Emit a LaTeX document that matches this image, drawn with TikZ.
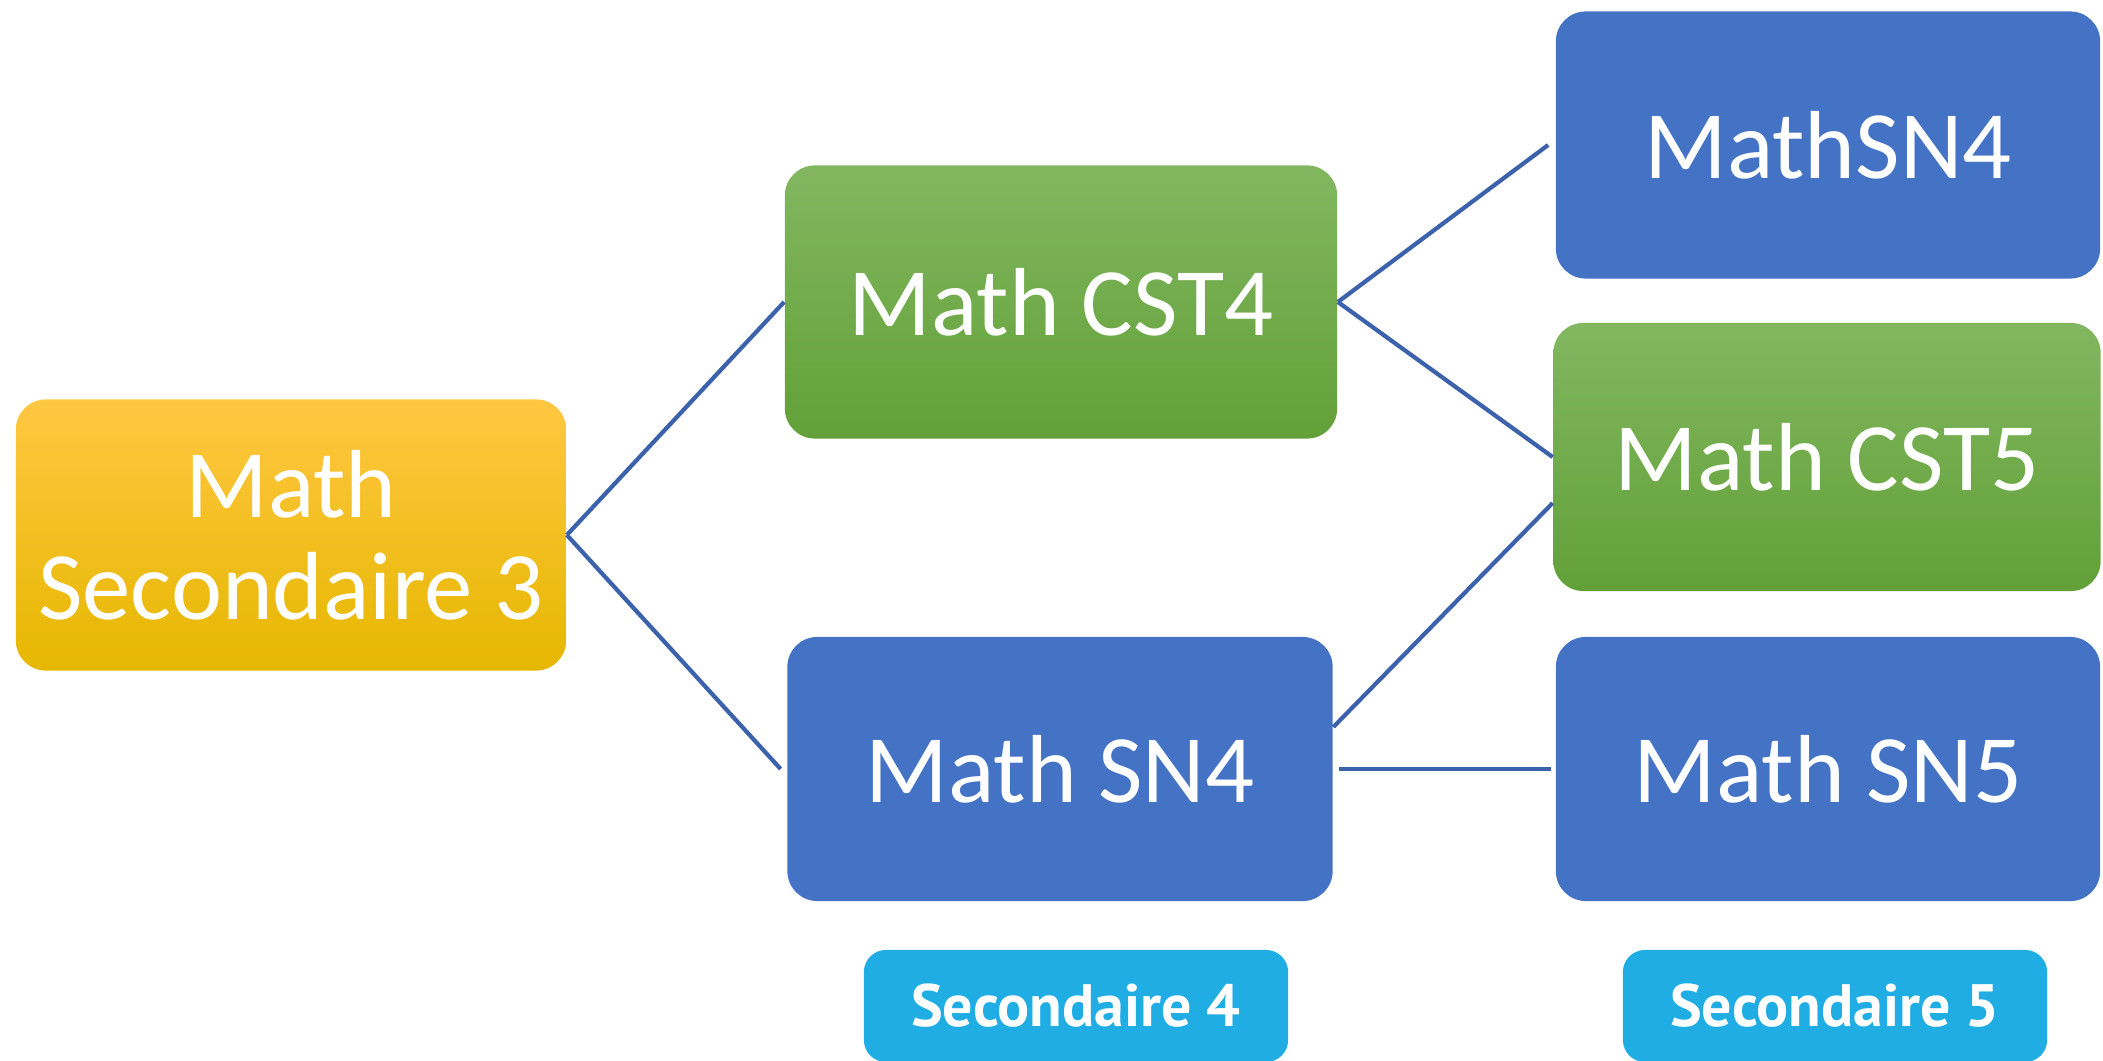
\documentclass[tikz,border=0pt]{standalone}
\usepackage{fontspec}
\setmainfont{Carlito}
\newfontfamily\labelfont{PT Sans}
\definecolor{yeltop}{RGB}{255, 199, 66}
\definecolor{yelmid}{RGB}{255, 192, 0}
\definecolor{yelbot}{RGB}{230, 183, 0}
\definecolor{grntop}{RGB}{130, 183, 96}
\definecolor{grnmid}{RGB}{112, 173, 71}
\definecolor{grnbot}{RGB}{98, 160, 56}
\definecolor{boxblue}{RGB}{68, 114, 196}
\definecolor{linkblue}{RGB}{61, 98, 172}
\definecolor{tagcyan}{RGB}{31, 173, 228}
\usetikzlibrary{positioning}

\begin{document}
\begin{tikzpicture}[x=0.01cm, y=-0.01cm,
    course/.style={rectangle, rounded corners=0.3cm, inner sep=0pt, text=white,
      align=center, font=\fontsize{27.5}{29}\selectfont},
    yellowbox/.style={course, top color=yeltop, middle color=yelmid, bottom color=yelbot},
    greenbox/.style={course, top color=grntop, middle color=grnmid, bottom color=grnbot},
    bluebox/.style={course, fill=boxblue},
    tag/.style={rectangle, rounded corners=0.22cm, inner sep=0pt, fill=tagcyan, text=white,
      minimum width=4.24cm, minimum height=1.12cm, font=\labelfont\bfseries\fontsize{17}{20}\selectfont},
    link/.style={draw=linkblue, line width=1.2pt}]
  \useasboundingbox (0,0) rectangle (2103,1061);

  % Secondaire 3
  \node[yellowbox, minimum width=5.50cm, minimum height=2.71cm] (s3) at (291,535) {Math\\Secondaire 3};

  % Secondaire 4
  \node[greenbox, minimum width=5.52cm, minimum height=2.73cm] (cst4) at (1061,302) {Math CST4};
  \node[bluebox, minimum width=5.45cm, minimum height=2.64cm] (sn4) at (1060,769) {Math SN4};

  % Secondaire 5
  \node[bluebox, minimum width=5.44cm, minimum height=2.67cm] (sn4b) at (1828,145) {MathSN4};
  \node[greenbox, minimum width=5.47cm, minimum height=2.68cm] (cst5) at (1827,457) {Math CST5};
  \node[bluebox, minimum width=5.44cm, minimum height=2.64cm] (sn5) at (1828,769) {Math SN5};

  % Labels
  \node[tag] (sec4) at (1076,1006) {Secondaire 4};
  \node[tag] (sec5) at (1835,1006) {Secondaire 5};

  % Links
  \draw[link] (s3.east) -- (cst4.west);
  \draw[link] (s3.east) -- ([xshift=-0.06cm]sn4.west);
  \draw[link] (cst4.east) -- ([xshift=-0.07cm]sn4b.west);
  \draw[link] (cst4.east) -- (cst5.west);
  \draw[link] ([yshift=0.42cm]sn4.east) -- ([yshift=-0.46cm]cst5.west);
  \draw[link] ([xshift=0.06cm]sn4.east) -- ([xshift=-0.04cm]sn5.west);
\end{tikzpicture}
\end{document}
